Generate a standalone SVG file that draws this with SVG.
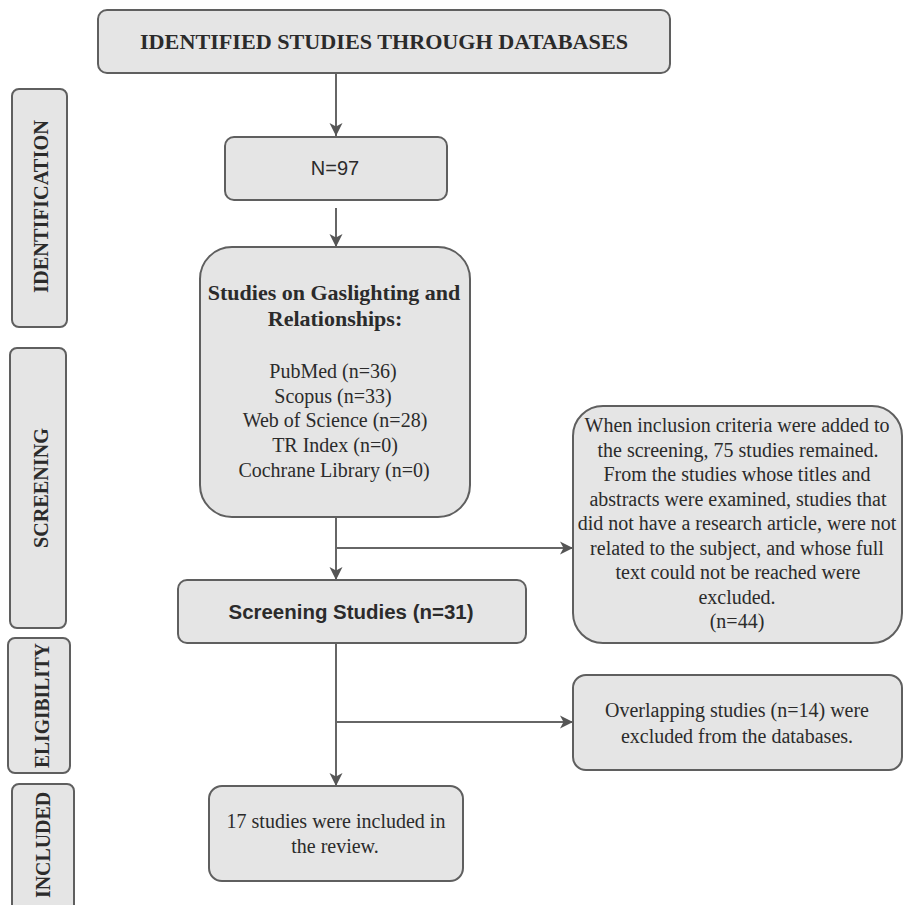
<svg xmlns="http://www.w3.org/2000/svg" width="904" height="905" viewBox="0 0 904 905">
<style>
.box{fill:#e5e5e5;stroke:#5f5f5f;stroke-width:2}
.serif{font-family:"Liberation Serif","Times New Roman",serif;fill:#2b2b2b}
.sans{font-family:"Liberation Sans",Arial,sans-serif;fill:#2b2b2b}
.b{font-weight:bold}
.t20{font-size:20px}
.t22{font-size:22px}
.mid{text-anchor:middle}
.conn{stroke:#666;stroke-width:2;fill:none;marker-end:url(#arr)}
</style>
<defs>
<marker id="arr" markerUnits="userSpaceOnUse" markerWidth="14" markerHeight="14" refX="13" refY="7" orient="auto">
<path d="M0,0.5 L13,7 L0,13.5 L3.5,7 Z" fill="#555"/>
</marker>
</defs>
<rect width="904" height="905" fill="#fff"/>

<g id="label-identification">
<rect class="box" x="12" y="89" width="55" height="238" rx="7"/>
<text class="serif b mid" font-size="21.5" transform="translate(47.5,206.5) rotate(-90)" textLength="173" lengthAdjust="spacingAndGlyphs">IDENTIFICATION</text>
</g>
<g id="label-screening">
<rect class="box" x="10" y="348" width="56" height="280" rx="7"/>
<text class="serif b mid" font-size="21.5" transform="translate(47.5,488) rotate(-90)" textLength="120" lengthAdjust="spacingAndGlyphs">SCREENING</text>
</g>
<g id="label-eligibility">
<rect class="box" x="8" y="638" width="62" height="135" rx="7"/>
<text class="serif b mid" font-size="21.5" transform="translate(48.5,705.5) rotate(-90)" textLength="125" lengthAdjust="spacingAndGlyphs">ELIGIBILITY</text>
</g>
<g id="label-included">
<rect class="box" x="12" y="784" width="62" height="130" rx="7"/>
<text class="serif b mid" font-size="21.5" transform="translate(49.5,845) rotate(-90)" textLength="106" lengthAdjust="spacingAndGlyphs">INCLUDED</text>
</g>

<g id="connectors">
<line class="conn" x1="336" y1="73" x2="336" y2="136"/>
<line class="conn" x1="336" y1="208" x2="336" y2="247"/>
<line class="conn" x1="336" y1="517" x2="336" y2="580"/>
<line class="conn" x1="336" y1="548" x2="573" y2="548"/>
<line class="conn" x1="336" y1="643" x2="336" y2="786"/>
<line class="conn" x1="336" y1="722" x2="573" y2="722"/>
</g>

<g id="node-title">
<rect class="box" x="98" y="10" width="572" height="63" rx="9"/>
<text class="serif b t22 mid" x="384" y="49" textLength="488" lengthAdjust="spacingAndGlyphs">IDENTIFIED STUDIES THROUGH DATABASES</text>
</g>

<g id="node-n97">
<rect class="box" x="225" y="137" width="222" height="63" rx="9"/>
<text class="sans t20 mid" x="335" y="175">N=97</text>
</g>

<g id="node-gaslighting">
<rect class="box" x="200" y="247" width="270" height="270" rx="32"/>
<text class="serif b t22 mid" x="334" y="300">Studies on Gaslighting and</text>
<text class="serif b t22 mid" x="335" y="326">Relationships:</text>
<text class="serif t20 mid" x="333" y="378">PubMed (n=36)</text>
<text class="serif t20 mid" x="333" y="403">Scopus (n=33)</text>
<text class="serif t20 mid" x="335" y="427">Web of Science (n=28)</text>
<text class="serif t20 mid" x="335" y="452">TR Index (n=0)</text>
<text class="serif t20 mid" x="334" y="477">Cochrane Library (n=0)</text>
</g>

<g id="node-screening">
<rect class="box" x="178" y="580" width="348" height="63" rx="9"/>
<text class="sans b t20 mid" x="351" y="619" textLength="245" lengthAdjust="spacingAndGlyphs">Screening Studies (n=31)</text>
</g>

<g id="node-excluded44">
<rect class="box" x="573" y="406" width="329" height="237" rx="30"/>
<text class="serif t20 mid" x="737" y="432">When inclusion criteria were added to</text>
<text class="serif t20 mid" x="738" y="456.5">the screening, 75 studies remained.</text>
<text class="serif t20 mid" x="737" y="481">From the studies whose titles and</text>
<text class="serif t20 mid" x="738" y="505.5">abstracts were examined, studies that</text>
<text class="serif t20 mid" x="737" y="530">did not have a research article, were not</text>
<text class="serif t20 mid" x="737" y="554.5">related to the subject, and whose full</text>
<text class="serif t20 mid" x="738" y="579">text could not be reached were</text>
<text class="serif t20 mid" x="737" y="603.5">excluded.</text>
<text class="serif t20 mid" x="737" y="628">(n=44)</text>
</g>

<g id="node-overlap">
<rect class="box" x="573" y="675" width="329" height="95" rx="13"/>
<text class="serif t20 mid" x="737" y="717">Overlapping studies (n=14) were</text>
<text class="serif t20 mid" x="737" y="743">excluded from the databases.</text>
</g>

<g id="node-included">
<rect class="box" x="209" y="786" width="254" height="95" rx="13"/>
<text class="serif t20 mid" x="336" y="828">17 studies were included in</text>
<text class="serif t20 mid" x="335" y="853">the review.</text>
</g>
</svg>
